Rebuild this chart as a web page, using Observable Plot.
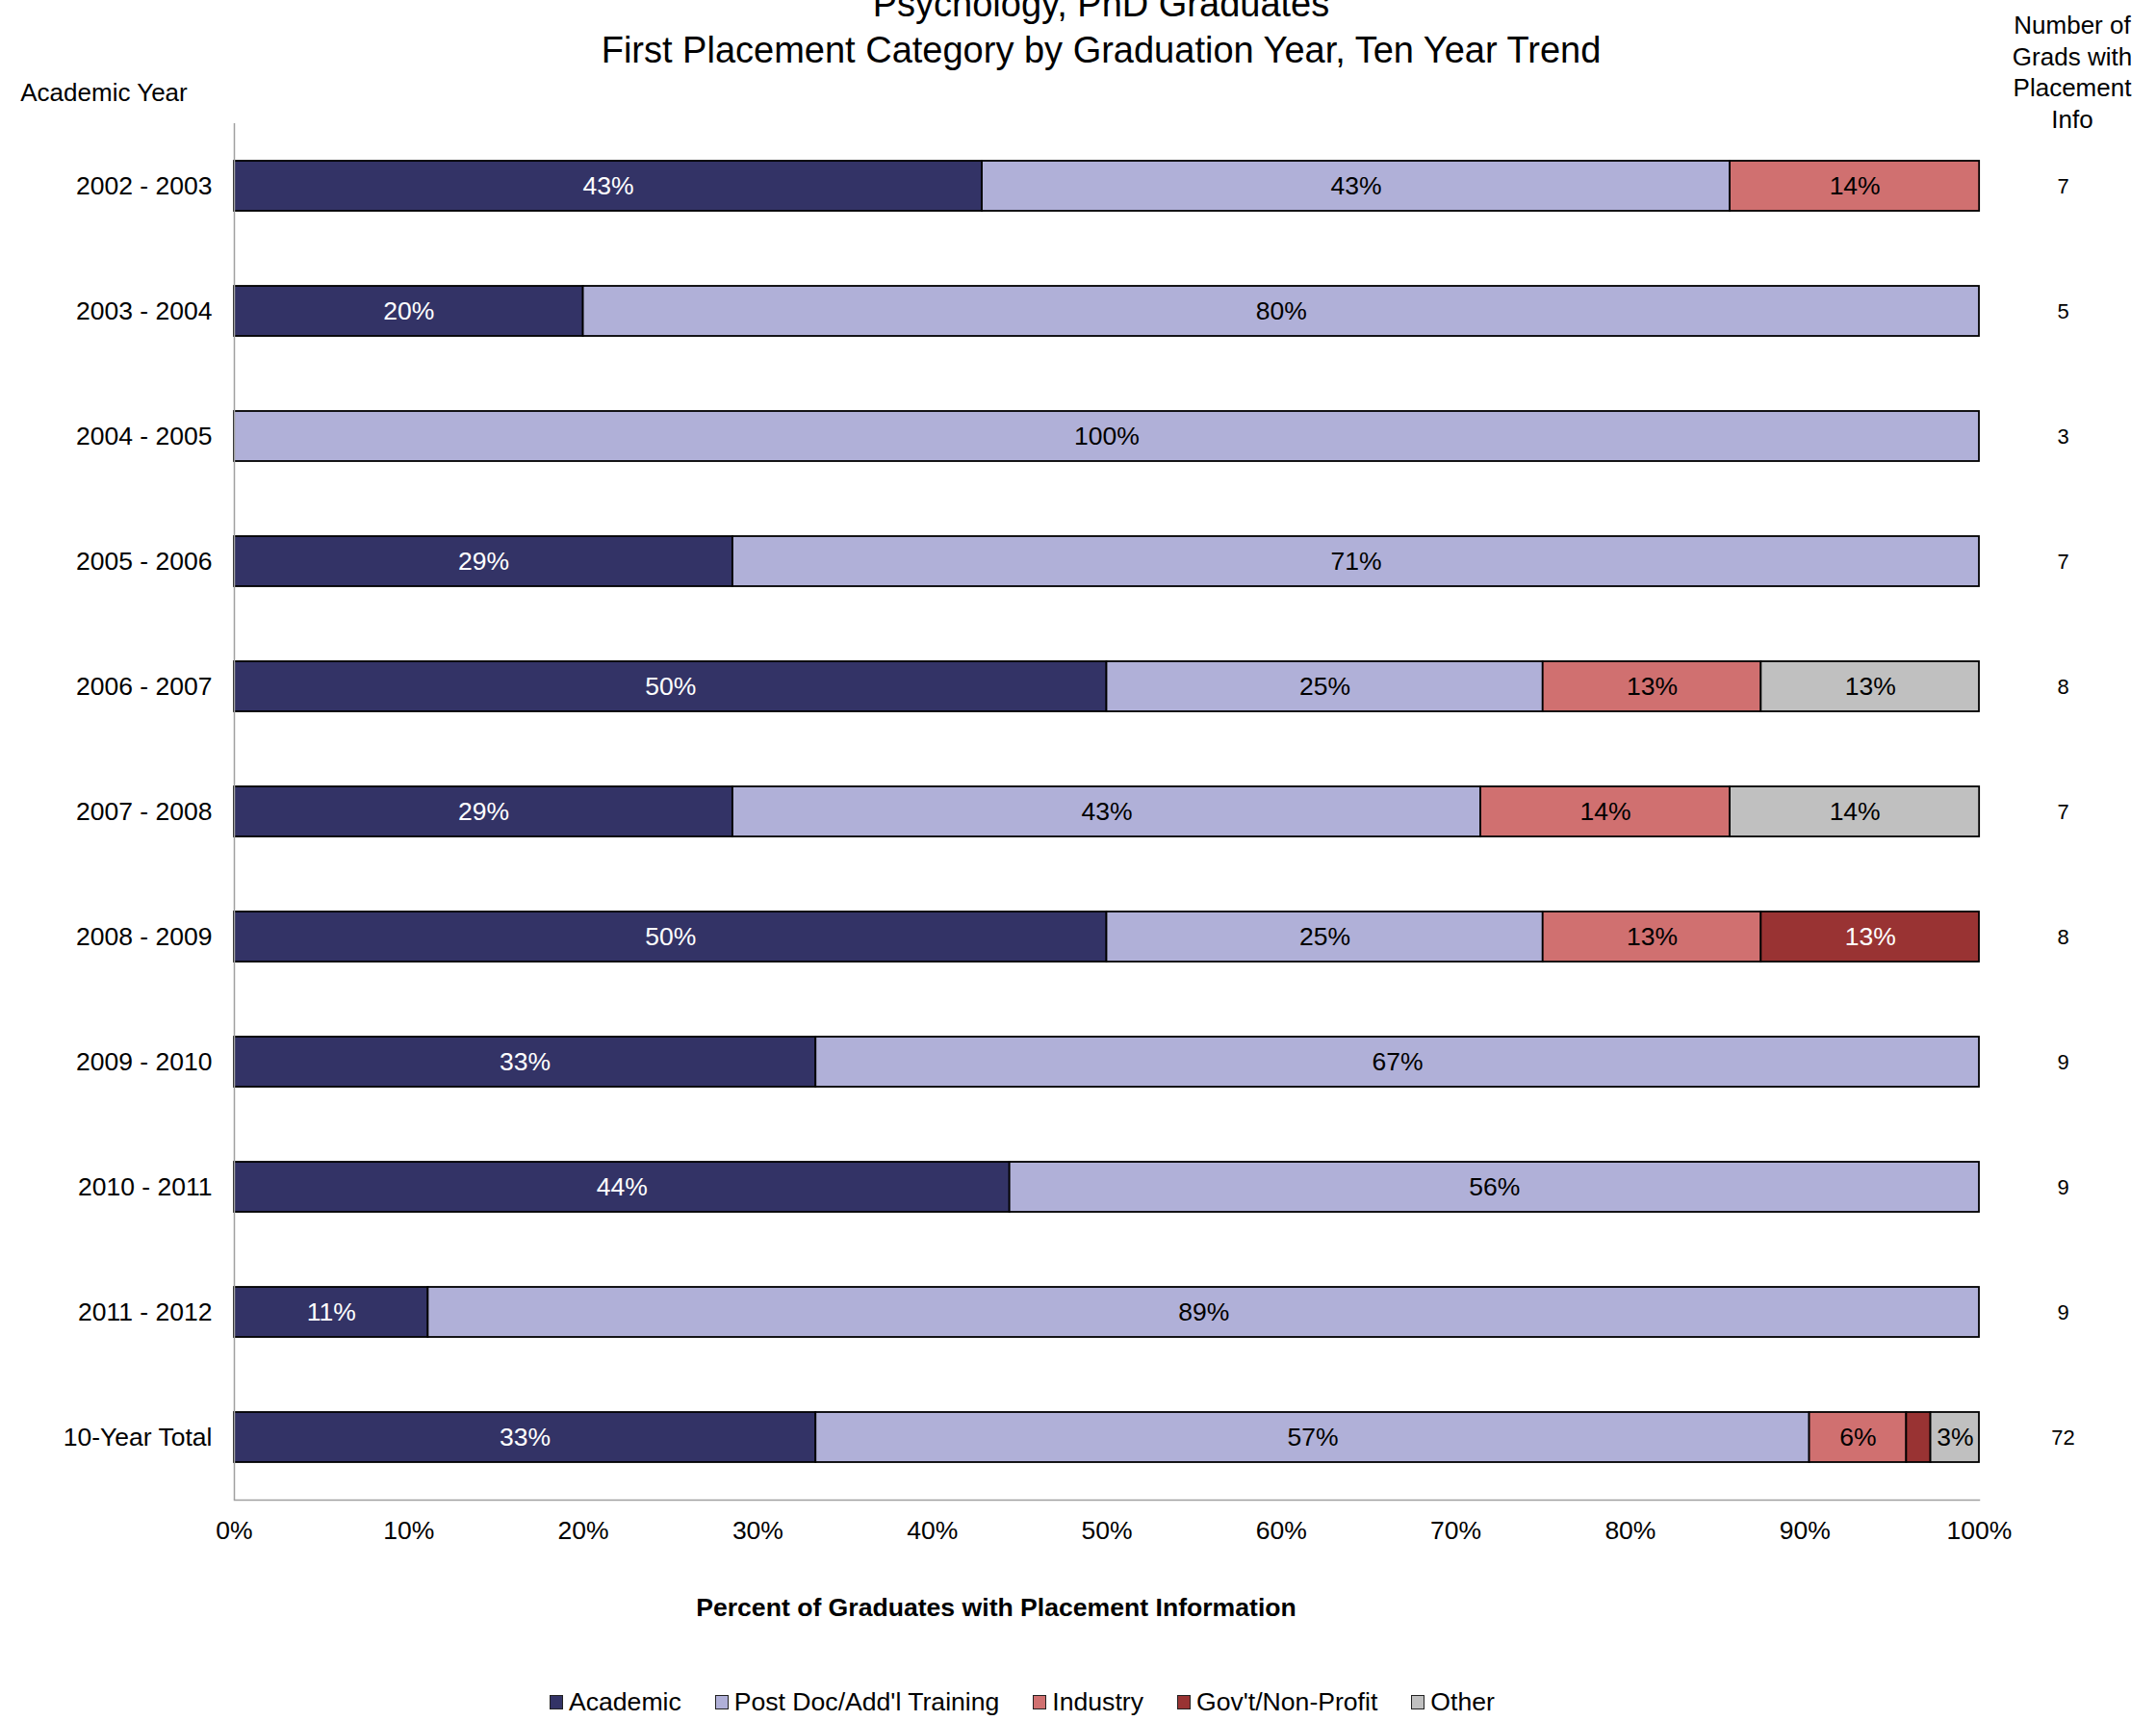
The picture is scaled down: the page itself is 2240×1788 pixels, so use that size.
<!DOCTYPE html>
<html>
<head>
<meta charset="utf-8">
<script src="https://cdn.jsdelivr.net/npm/d3@7"></script>
<script src="https://cdn.jsdelivr.net/npm/@observablehq/plot@0.6"></script>
<style>
  html, body { margin: 0; padding: 0; background: #fff; }
  body { width: 2240px; height: 1788px; position: relative; overflow: hidden; font-family: "Liberation Sans", Arial, sans-serif; color: #000; }
  .abs { position: absolute; white-space: nowrap; }
  #title { left: 0; width: 2288px; top: -20px; text-align: center; font-size: 38px; line-height: 48px; }
  #ylab { left: 8px; width: 200px; top: 80px; font-size: 26px; text-align: center; line-height: 32px; }
  #nhead { left: 2053px; width: 200px; top: 10px; font-size: 26px; text-align: center; line-height: 32.5px; }
  #xlab { left: 635px; width: 800px; top: 1652px; font-size: 26.6px; font-weight: bold; text-align: center; line-height: 36px; }
  #legend { left: 571px; top: 1752px; font-size: 26.6px; line-height: 32px; display: flex; align-items: center; }
  #legend .item { display: flex; align-items: center; margin-right: 35px; }
  #legend .sw { width: 12px; height: 13px; border: 1.5px solid #222; margin-right: 6px; }
  #chart { position: absolute; left: 0; top: 0; }
</style>
</head>
<body>
<div id="title" class="abs">Psychology, PhD Graduates<br>First Placement Category by Graduation Year, Ten Year Trend</div>
<div id="ylab" class="abs">Academic Year</div>
<div id="nhead" class="abs">Number of<br>Grads with<br>Placement<br>Info</div>
<div id="chart"></div>
<div id="xlab" class="abs">Percent of Graduates with Placement Information</div>
<div id="legend" class="abs"></div>
<script>
const years = ["2002 - 2003", "2003 - 2004", "2004 - 2005", "2005 - 2006", "2006 - 2007", "2007 - 2008", "2008 - 2009", "2009 - 2010", "2010 - 2011", "2011 - 2012", "10-Year Total"];
const categories = ["Academic", "Post Doc/Add'l Training", "Industry", "Gov't/Non-Profit", "Other"];
const academic = [42.86, 20, 0, 28.57, 50, 28.57, 50, 33.33, 44.44, 11.11, 33.33];
const postDoc  = [42.86, 80, 100, 71.43, 25, 42.86, 25, 66.67, 55.56, 88.89, 56.94];
const industry = [14.29, 0, 0, 0, 12.5, 14.29, 12.5, 0, 0, 0, 5.56];
const govt     = [0, 0, 0, 0, 0, 0, 12.5, 0, 0, 0, 1.39];
const other    = [0, 0, 0, 0, 12.5, 14.29, 0, 0, 0, 0, 2.78];
const counts   = [7, 5, 3, 7, 8, 7, 8, 9, 9, 9, 72];
const xTicks   = [0, 10, 20, 30, 40, 50, 60, 70, 80, 90, 100];
const colors   = ["#333366", "#b0b0d8", "#d07070", "#993333", "#c0c0c0"];
const labelColors = ["#ffffff", "#000000", "#000000", "#ffffff", "#000000"];

const series = [academic, postDoc, industry, govt, other];
const rows = [];
years.forEach((yr, i) => {
  categories.forEach((cat, c) => {
    const v = series[c][i];
    if (v > 0) rows.push({year: yr, category: cat, ci: c, value: v});
  });
});

const chart = Plot.plot({
  width: 2240,
  height: 1620,
  marginLeft: 243,
  marginRight: 184,
  marginTop: 128,
  marginBottom: 62,
  style: {fontFamily: "'Liberation Sans', Arial, sans-serif", fontSize: "26.5px", color: "#000", background: "transparent"},
  x: {domain: [0, 100], ticks: xTicks, tickFormat: d => d + "%", label: null},
  y: {domain: years, paddingInner: 0.6, paddingOuter: 0.3, label: null},
  color: {type: "identity"},
  marks: [
    Plot.barX(rows, Plot.stackX({x: "value", y: "year", fill: d => colors[d.ci], stroke: "#000", strokeWidth: 1.8})),
    Plot.text(rows, Plot.stackX({x: "value", y: "year", text: d => d.value >= 2 ? Math.round(d.value) + "%" : "", fill: d => labelColors[d.ci], fontSize: 26.5})),
    Plot.text(years, {x: () => 100, y: d => d, text: (d, i) => String(counts[i]), dx: 87, fontSize: 22, textAnchor: "middle"}),
    Plot.ruleX([0], {stroke: "#a0a0a0", strokeWidth: 1.5}),
    Plot.frame({anchor: "bottom", stroke: "#a0a0a0", strokeWidth: 1.5}),
    Plot.axisX({ticks: xTicks, tickSize: 0, tickPadding: 22, tickFormat: d => d + "%", fontSize: 26.5, label: null}),
    Plot.axisY({tickSize: 0, tickPadding: 23, fontSize: 26.5, label: null})
  ]
});
document.getElementById("chart").appendChild(chart);

const legend = document.getElementById("legend");
categories.forEach((cat, c) => {
  const item = document.createElement("div");
  item.className = "item";
  const sw = document.createElement("div");
  sw.className = "sw";
  sw.style.background = colors[c];
  const lab = document.createElement("span");
  lab.textContent = cat;
  item.appendChild(sw);
  item.appendChild(lab);
  legend.appendChild(item);
});
</script>
</body>
</html>
